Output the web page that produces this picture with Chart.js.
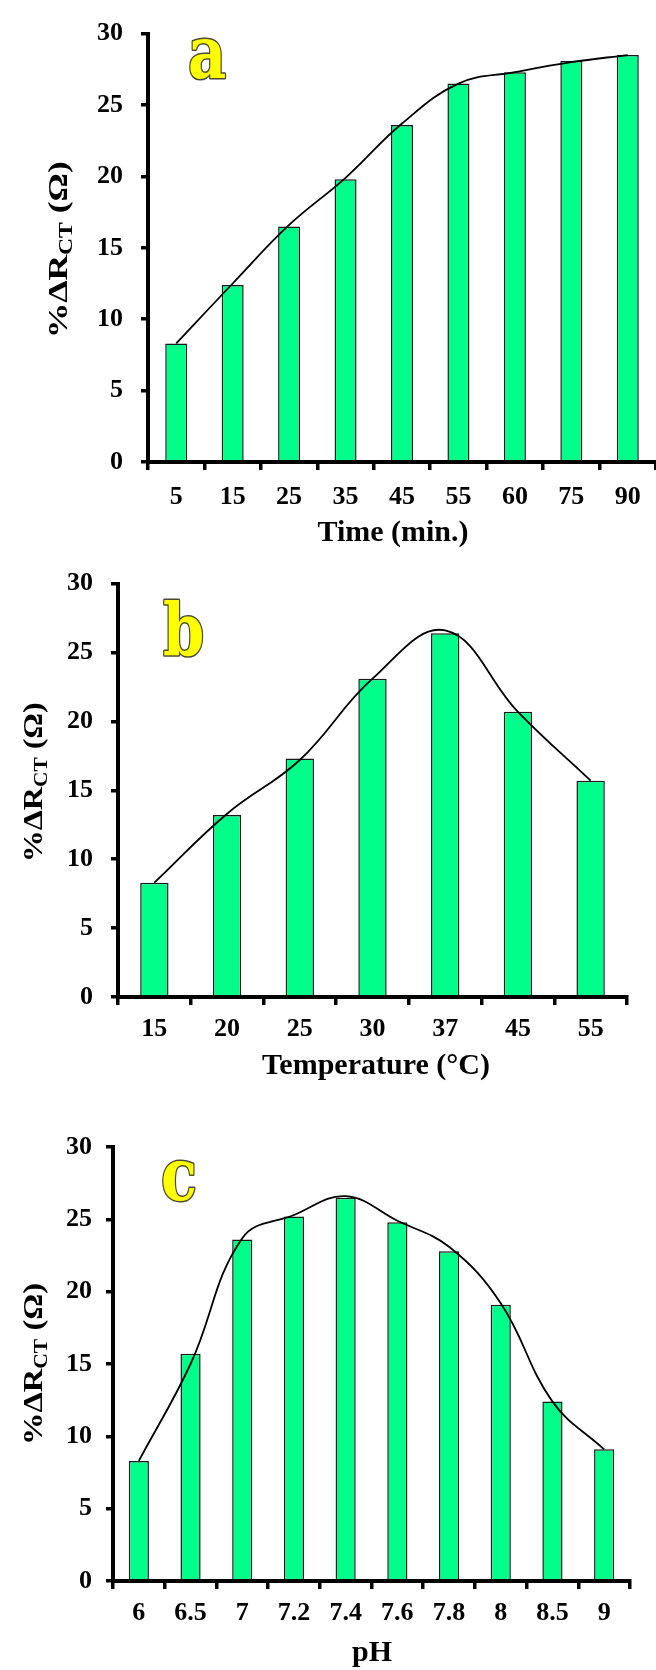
<!DOCTYPE html>
<html><head><meta charset="utf-8">
<script src="https://cdn.jsdelivr.net/npm/chart.js@4.4.0/dist/chart.umd.min.js"></script>
<style>
html,body{margin:0;padding:0;background:#fff;}
body{width:656px;height:1670px;position:relative;overflow:hidden;}
canvas{position:absolute;left:0;}
</style></head><body>
<canvas id="ca" width="656" height="550" style="top:0px"></canvas>
<canvas id="cb" width="656" height="545" style="top:550px"></canvas>
<canvas id="cc" width="656" height="575" style="top:1095px"></canvas>
<script>
// ---- data ----
const timeLabels = ['5','15','25','35','45','55','60','75','90'];
const timeValues = [8.3, 12.4, 16.5, 19.8, 23.6, 26.5, 27.3, 28.1, 28.5];
const timeTrend  = [8.3, 12.5, 16.6, 19.9, 23.7, 26.5, 27.3, 28.0, 28.5];

const tempLabels = ['15','20','25','30','37','45','55'];
const tempValues = [8.3, 13.2, 17.3, 23.1, 26.4, 20.7, 15.7];
const tempTrend  = [8.3, 13.3, 17.2, 23.1, 26.6, 20.7, 15.7];

const phLabels = ['6','6.5','7','7.2','7.4','7.6','7.8','8','8.5','9'];
const phValues = [8.3, 15.7, 23.6, 25.2, 26.5, 24.8, 22.8, 19.1, 12.4, 9.1];
const phTrend  = [8.3, 15.0, 23.7, 25.3, 26.6, 24.9, 23.1, 19.2, 12.4, 9.1];

const yTicks = [0, 5, 10, 15, 20, 25, 30];
const yTitleMain = '%ΔR', yTitleSub = 'CT', yTitleEnd = ' (Ω)';

// ---- drawing helpers ----
const SERIF = '"Liberation Serif", "Times New Roman", serif';
const tickFont = {family: SERIF, weight: 'bold', size: 26};

function drawYTitle(ctx, cx, cy, len) {
  const size = 27, sub = 18;
  const parts = [
    {t: yTitleMain, f: `bold ${size}px ${SERIF}`, dy: 0},
    {t: yTitleSub, f: `bold ${sub}px ${SERIF}`, dy: size * 0.2},
    {t: yTitleEnd, f: `bold ${size}px ${SERIF}`, dy: 0}
  ];
  let W = 0;
  parts.forEach(p => { ctx.font = p.f; p.w = ctx.measureText(p.t).width; W += p.w; });
  ctx.save();
  ctx.translate(cx, cy);
  ctx.rotate(-Math.PI / 2);
  ctx.scale(len / W, 1);
  ctx.fillStyle = '#000';
  ctx.textBaseline = 'alphabetic';
  ctx.textAlign = 'left';
  let x = -W / 2;
  const base = size * 0.33;
  parts.forEach(p => { ctx.font = p.f; ctx.fillText(p.t, x, base + p.dy); x += p.w; });
  ctx.restore();
}

const overlay = {
  id: 'overlay',
  afterDraw(chart, args, o) {
    const ctx = chart.ctx;
    const ca = chart.chartArea;
    drawYTitle(ctx, o.yTitleX, (ca.top + ca.bottom) / 2 + o.yTitleDy, o.yTitleLen);
    ctx.save();
    ctx.font = `bold 30px ${SERIF}`;
    ctx.textAlign = 'center';
    ctx.textBaseline = 'middle';
    ctx.fillStyle = '#000';
    ctx.fillText(o.xTitle, o.xTitleX, o.xTitleY);
    ctx.restore();
    ctx.save();
    ctx.font = 'bold 72px "DejaVu Serif"';
    ctx.textBaseline = 'alphabetic';
    ctx.textAlign = 'left';
    ctx.translate(o.letterX, o.letterY);
    ctx.scale(0.82, 1);
    ctx.lineJoin = 'round';
    ctx.lineWidth = 3;
    ctx.strokeStyle = '#4a4a30';
    ctx.strokeText(o.letter, 0, 0);
    ctx.fillStyle = '#ffff00';
    ctx.fillText(o.letter, 0, 0);
    ctx.restore();
  }
};

function makeChart(id, labels, values, trend, cfg) {
  return new Chart(document.getElementById(id), {
    type: 'bar',
    data: {
      labels: labels,
      datasets: [
        {type: 'line', data: trend, borderColor: '#000', borderWidth: 1.8, pointRadius: 0,
         tension: 0.4, fill: false, order: 0},
        {type: 'bar', data: values, backgroundColor: '#00ff8a', borderColor: '#1a1a1a',
         borderWidth: 1.5, barPercentage: 0.39, categoryPercentage: 1, order: 1}
      ]
    },
    options: {
      responsive: false, animation: false, devicePixelRatio: 1,
      layout: {padding: {top: cfg.top, right: cfg.right, left: 0, bottom: 0}},
      plugins: {legend: {display: false}, tooltip: {enabled: false}, title: {display: false}, overlay: cfg},
      scales: {
        x: {
          grid: {offset: true, drawOnChartArea: false, drawTicks: true, tickLength: 8,
                 tickWidth: 3.5, tickColor: '#000', color: '#000', lineWidth: 3.5},
          border: {display: true, color: '#000', width: 4},
          ticks: {font: tickFont, color: '#000', padding: cfg.xPad, maxRotation: 0, autoSkip: false},
          afterFit(s) { s.height = cfg.xH; }
        },
        y: {
          min: 0, max: 30,
          grid: {drawOnChartArea: false, drawTicks: true, tickLength: 7, tickWidth: 3.5,
                 tickColor: '#000', color: '#000', lineWidth: 3.5},
          border: {display: true, color: '#000', width: 4},
          ticks: {font: tickFont, color: '#000', padding: cfg.yPad},
          afterBuildTicks(s) { s.ticks = yTicks.map(v => ({value: v})); },
          afterFit(s) { s.width = cfg.left; }
        }
      }
    },
    plugins: [overlay]
  });
}

makeChart('ca', timeLabels, timeValues, timeTrend, {
  top: 24, right: 0, left: 148, xH: 88, xPad: 12, yPad: 18,
  yTitleX: 58, yTitleDy: 2, yTitleLen: 177,
  xTitle: 'Time (min.)', xTitleX: 393, xTitleY: 533,
  letter: 'a', letterX: 188, letterY: 78
});
makeChart('cb', tempLabels, tempValues, tempTrend, {
  top: 28, right: 29, left: 118, xH: 98, xPad: 9, yPad: 18,
  yTitleX: 33, yTitleDy: -8, yTitleLen: 160,
  xTitle: 'Temperature (°C)', xTitleX: 376, xTitleY: 516,
  letter: 'b', letterX: 163, letterY: 106
});
makeChart('cc', phLabels, phValues, phTrend, {
  top: 52, right: 26, left: 113, xH: 89, xPad: 9, yPad: 14,
  yTitleX: 33, yTitleDy: 0, yTitleLen: 162,
  xTitle: 'pH', xTitleX: 372, xTitleY: 558,
  letter: 'c', letterX: 161, letterY: 105
});
</script>
</body></html>
